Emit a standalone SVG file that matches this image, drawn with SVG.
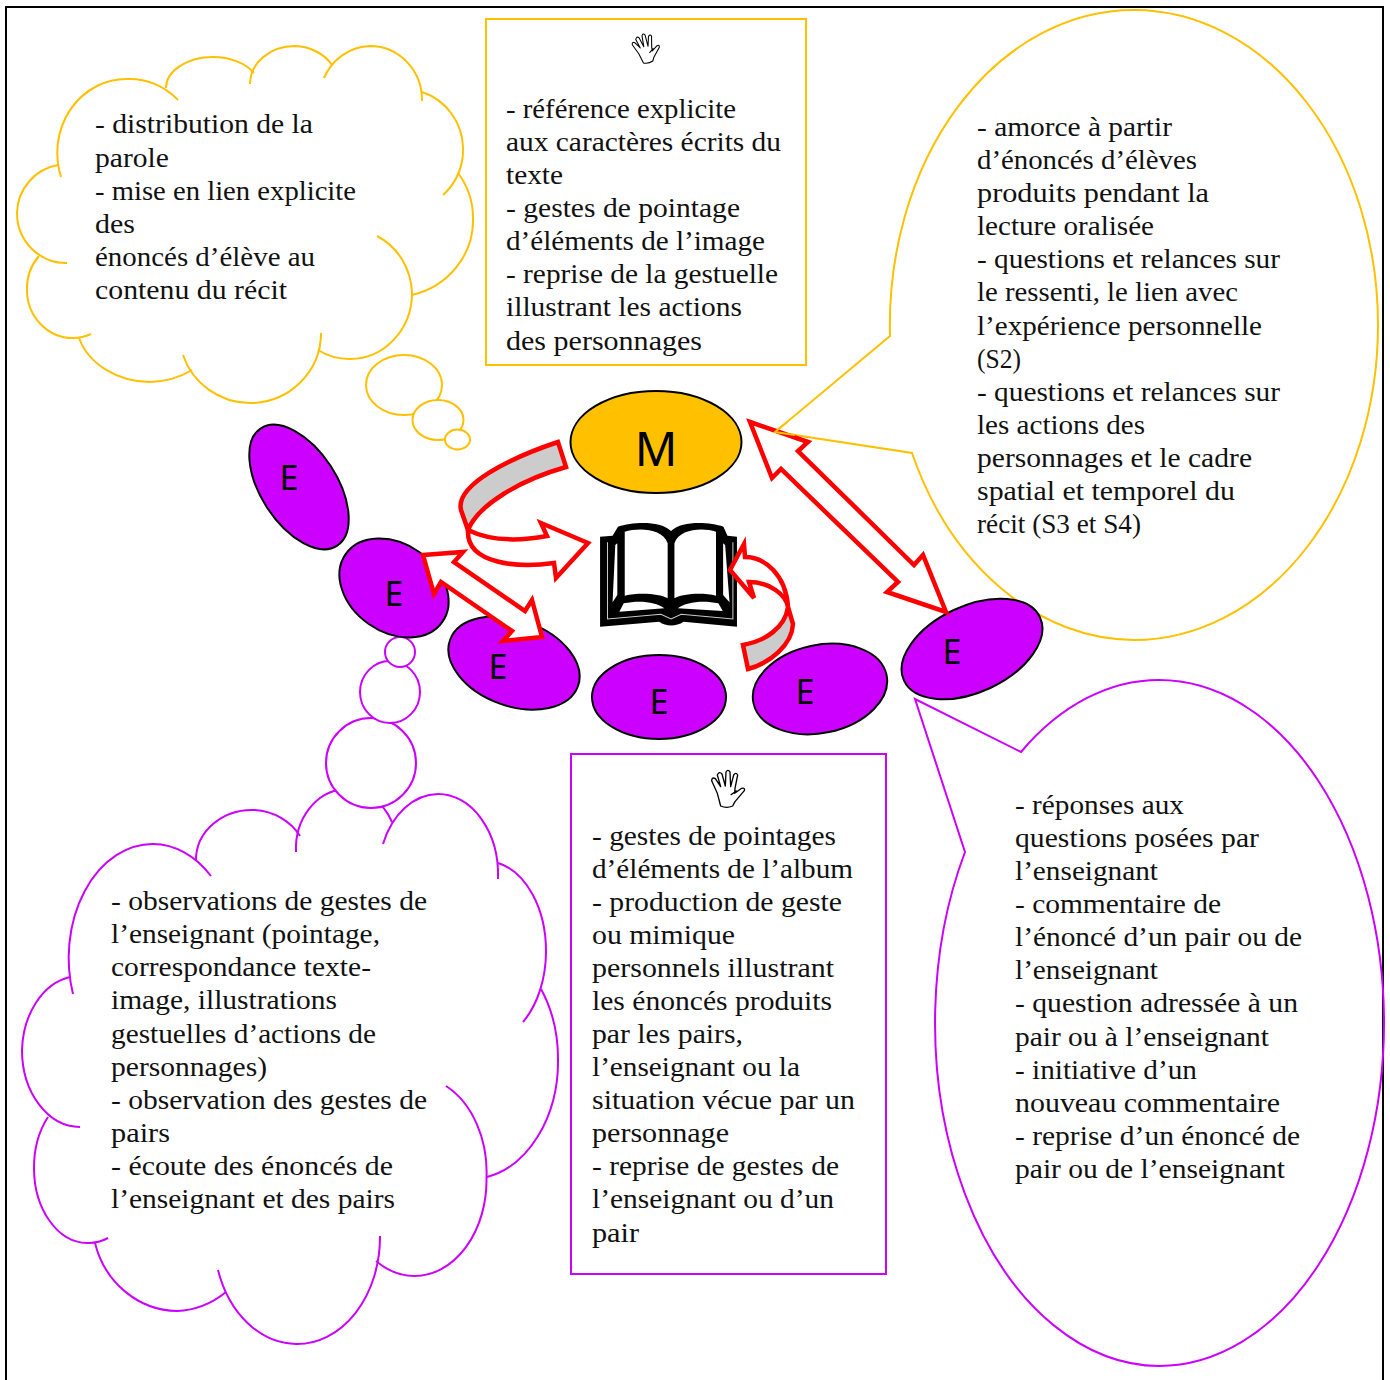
<svg xmlns="http://www.w3.org/2000/svg" width="1390" height="1380" viewBox="0 0 1390 1380">
<style>
.t{font-family:"Liberation Serif","Times New Roman",serif;font-size:28px;fill:#111;white-space:pre}
.l{font-family:"Noto Sans","Open Sans",sans-serif;fill:#000;text-anchor:middle}
.y{fill:none;stroke:#FFC000;stroke-width:2}
.m{fill:none;stroke:#CC00FF;stroke-width:2}
.yb{fill:#fff;stroke:#FFC000;stroke-width:2}
.mb{fill:#fff;stroke:#CC00FF;stroke-width:2}
.e{fill:#CC00FF;stroke:#000;stroke-width:2}
.a{fill:#fff;stroke:#FF0000;stroke-width:4.5;stroke-linejoin:miter}
.g{fill:#CCCCCC;stroke:#FF0000;stroke-width:4.5}
</style>
<defs>
<g id="hand"><path d="M92,138 L82,100 L65,62 Q66,50 76,56 L92,80 L82,45 Q88,32 96,42 L106,78 L108,36 Q114,26 120,36 L122,80 L131,45 Q138,35 143,45 L135,85 L134,100 L155,85 Q166,82 163,92 L135,125 L128,138 Q110,146 92,138 Z M122,105 L140,92" fill="#fff" stroke="#000" stroke-width="4" stroke-linejoin="round"/></g>
</defs>
<rect x="0" y="0" width="1390" height="1380" fill="#fff"/>
<rect id="frame" x="6" y="7" width="1377" height="1400" fill="none" stroke="#000" stroke-width="2"/>

<g id="cloud-yellow">
<path class="y" d="M61,177 A69,74 0 0 1 127,79 A69,74 0 0 1 178,100"/>
<path class="y" d="M166,88 A47,31 0 0 1 213,57 A47,31 0 0 1 254,73"/>
<path class="y" d="M250,84 A45,38 0 0 1 295,46 A45,38 0 0 1 332,65"/>
<path class="y" d="M324,78 A52,54 0 0 1 370,46 A52,54 0 0 1 422,101"/>
<path class="y" d="M422,92 A60,60 0 0 1 463,148 A60,60 0 0 1 443,195"/>
<path class="y" d="M458,173 A80,77 0 0 1 473,218 A80,77 0 0 1 412,295"/>
<path class="y" d="M377,236 A62,66 0 0 1 412,293 A62,66 0 0 1 350,359 A62,66 0 0 1 318,350"/>
<path class="y" d="M321,333 A71,70 0 0 1 250,403 A71,70 0 0 1 183,355"/>
<path class="y" d="M192,370 A75,62 0 0 1 150,382 A75,62 0 0 1 79,338"/>
<path class="y" d="M91,334 A46,48 0 0 1 73,338 A46,48 0 0 1 27,290 A46,48 0 0 1 39,256"/>
<path class="y" d="M67,263 A49,50 0 0 1 17,213 A49,50 0 0 1 58,165"/>
<ellipse class="yb" cx="404" cy="385" rx="38" ry="30"/>
<ellipse class="yb" cx="438" cy="420" rx="25.5" ry="20"/>
<ellipse class="yb" cx="457.500" cy="439.500" rx="12.500" ry="10"/>
<g class="t">
<text x="95" y="133" textLength="218" lengthAdjust="spacingAndGlyphs">- distribution de la</text>
<text x="95" y="167" textLength="74" lengthAdjust="spacingAndGlyphs">parole</text>
<text x="95" y="200" textLength="261" lengthAdjust="spacingAndGlyphs">- mise en lien explicite</text>
<text x="95" y="233" textLength="40" lengthAdjust="spacingAndGlyphs">des</text>
<text x="95" y="266" textLength="220" lengthAdjust="spacingAndGlyphs">énoncés d’élève au</text>
<text x="95" y="299" textLength="192" lengthAdjust="spacingAndGlyphs">contenu du récit</text>
</g>
</g>

<g id="box-yellow">
<rect class="y" x="486" y="19" width="320" height="346"/>
<use href="#hand" transform="translate(646.500,48) rotate(-12) scale(.265) translate(-115,-85)"/>
<g class="t">
<text x="506" y="118" textLength="230" lengthAdjust="spacingAndGlyphs">- référence explicite</text>
<text x="506" y="151" textLength="275" lengthAdjust="spacingAndGlyphs">aux caractères écrits du</text>
<text x="506" y="184" textLength="57" lengthAdjust="spacingAndGlyphs">texte</text>
<text x="506" y="217" textLength="234" lengthAdjust="spacingAndGlyphs">- gestes de pointage</text>
<text x="506" y="250" textLength="259" lengthAdjust="spacingAndGlyphs">d’éléments de l’image</text>
<text x="506" y="283" textLength="272" lengthAdjust="spacingAndGlyphs">- reprise de la gestuelle</text>
<text x="506" y="316" textLength="236" lengthAdjust="spacingAndGlyphs">illustrant les actions</text>
<text x="506" y="350" textLength="196" lengthAdjust="spacingAndGlyphs">des personnages</text>
</g>
</g>

<g id="callout-yellow">
<path class="y" d="M890,336 L775,432 L912,453 A244,315 0 0 0 1134,640 A244,315 0 0 0 1378,325 A244,315 0 0 0 1134,10 A244,315 0 0 0 890,336 Z"/>
<g class="t">
<text x="977" y="136" textLength="195" lengthAdjust="spacingAndGlyphs">- amorce à partir</text>
<text x="977" y="169" textLength="220" lengthAdjust="spacingAndGlyphs">d’énoncés d’élèves</text>
<text x="977" y="202" textLength="232" lengthAdjust="spacingAndGlyphs">produits pendant la</text>
<text x="977" y="235" textLength="177" lengthAdjust="spacingAndGlyphs">lecture oralisée</text>
<text x="977" y="268" textLength="303" lengthAdjust="spacingAndGlyphs">- questions et relances sur</text>
<text x="977" y="301" textLength="261" lengthAdjust="spacingAndGlyphs">le ressenti, le lien avec</text>
<text x="977" y="335" textLength="285" lengthAdjust="spacingAndGlyphs">l’expérience personnelle</text>
<text x="977" y="368" textLength="44" lengthAdjust="spacingAndGlyphs">(S2)</text>
<text x="977" y="401" textLength="303" lengthAdjust="spacingAndGlyphs">- questions et relances sur</text>
<text x="977" y="434" textLength="168" lengthAdjust="spacingAndGlyphs">les actions des</text>
<text x="977" y="467" textLength="275" lengthAdjust="spacingAndGlyphs">personnages et le cadre</text>
<text x="977" y="500" textLength="258" lengthAdjust="spacingAndGlyphs">spatial et temporel du</text>
<text x="977" y="533" textLength="164" lengthAdjust="spacingAndGlyphs">récit (S3 et S4)</text>
</g>
</g>

<g id="callout-magenta">
<path class="m" d="M965,852 L915,699 L1021,752 A225,343 0 0 1 1159,680 A225,343 0 0 1 1384,1023 A225,343 0 0 1 1159,1366 A225,343 0 0 1 965,852 Z"/>
<g class="t">
<text x="1015" y="814" textLength="169" lengthAdjust="spacingAndGlyphs">- réponses aux</text>
<text x="1015" y="847" textLength="244" lengthAdjust="spacingAndGlyphs">questions posées par</text>
<text x="1015" y="880" textLength="143" lengthAdjust="spacingAndGlyphs">l’enseignant</text>
<text x="1015" y="913" textLength="206" lengthAdjust="spacingAndGlyphs">- commentaire de</text>
<text x="1015" y="946" textLength="287" lengthAdjust="spacingAndGlyphs">l’énoncé d’un pair ou de</text>
<text x="1015" y="979" textLength="143" lengthAdjust="spacingAndGlyphs">l’enseignant</text>
<text x="1015" y="1012" textLength="283" lengthAdjust="spacingAndGlyphs">- question adressée à un</text>
<text x="1015" y="1046" textLength="254" lengthAdjust="spacingAndGlyphs">pair ou à l’enseignant</text>
<text x="1015" y="1079" textLength="182" lengthAdjust="spacingAndGlyphs">- initiative d’un</text>
<text x="1015" y="1112" textLength="265" lengthAdjust="spacingAndGlyphs">nouveau commentaire</text>
<text x="1015" y="1145" textLength="285" lengthAdjust="spacingAndGlyphs">- reprise d’un énoncé de</text>
<text x="1015" y="1178" textLength="270" lengthAdjust="spacingAndGlyphs">pair ou de l’enseignant</text>
</g>
</g>

<g id="cloud-magenta">
<path class="m" d="M73,994 A84,114 0 0 1 153,844 A84,114 0 0 1 211,876"/>
<path class="m" d="M196,860 A56,50 0 0 1 254.500,810 A56,50 0 0 1 300,836"/>
<path class="m" d="M296,852 A52,60 0 0 1 344,789 A52,60 0 0 1 392,822"/>
<path class="m" d="M383,844 A60,81 0 0 1 438,794 A60,81 0 0 1 498,879"/>
<path class="m" d="M498,863 A60,90 0 0 1 546,952 A60,90 0 0 1 523,1022"/>
<path class="m" d="M541,989 A88,118 0 0 1 558,1059 A88,118 0 0 1 487,1177"/>
<path class="m" d="M446,1086 A72,96 0 0 1 486.500,1178 A72,96 0 0 1 414.500,1276 A72,96 0 0 1 376,1261"/>
<path class="m" d="M380,1236 A83,107 0 0 1 296,1344 A83,107 0 0 1 218,1270"/>
<path class="m" d="M226,1292 A86,91 0 0 1 177,1311 A86,91 0 0 1 95,1243"/>
<path class="m" d="M108,1238 A53.500,75 0 0 1 87,1243 A53.500,75 0 0 1 34,1168 A53.500,75 0 0 1 48,1117"/>
<path class="m" d="M80,1127 A58,77 0 0 1 22,1050 A58,77 0 0 1 70,977"/>
<circle class="mb" cx="371" cy="763" r="45"/>
<ellipse class="mb" cx="390" cy="692" rx="30" ry="31"/>
<circle class="mb" cx="400" cy="652" r="15"/>
<g class="t">
<text x="111" y="910" textLength="316" lengthAdjust="spacingAndGlyphs">- observations de gestes de</text>
<text x="111" y="943" textLength="269" lengthAdjust="spacingAndGlyphs">l’enseignant (pointage,</text>
<text x="111" y="976" textLength="260" lengthAdjust="spacingAndGlyphs">correspondance texte-</text>
<text x="111" y="1009" textLength="226" lengthAdjust="spacingAndGlyphs">image, illustrations</text>
<text x="111" y="1043" textLength="265" lengthAdjust="spacingAndGlyphs">gestuelles d’actions de</text>
<text x="111" y="1076" textLength="156" lengthAdjust="spacingAndGlyphs">personnages)</text>
<text x="111" y="1109" textLength="316" lengthAdjust="spacingAndGlyphs">- observation des gestes de</text>
<text x="111" y="1142" textLength="59" lengthAdjust="spacingAndGlyphs">pairs</text>
<text x="111" y="1175" textLength="282" lengthAdjust="spacingAndGlyphs">-  écoute des énoncés de</text>
<text x="111" y="1208" textLength="284" lengthAdjust="spacingAndGlyphs">l’enseignant et des pairs</text>
</g>
</g>

<g id="box-magenta">
<rect class="m" x="571" y="754" width="315" height="520"/>
<use href="#hand" transform="translate(690,760) scale(.3333)"/>
<g class="t">
<text x="592" y="845" textLength="244" lengthAdjust="spacingAndGlyphs">- gestes de pointages</text>
<text x="592" y="878" textLength="261" lengthAdjust="spacingAndGlyphs">d’éléments de l’album</text>
<text x="592" y="911" textLength="250" lengthAdjust="spacingAndGlyphs">- production de geste</text>
<text x="592" y="944" textLength="143" lengthAdjust="spacingAndGlyphs">ou mimique</text>
<text x="592" y="977" textLength="242" lengthAdjust="spacingAndGlyphs">personnels illustrant</text>
<text x="592" y="1010" textLength="240" lengthAdjust="spacingAndGlyphs">les énoncés produits</text>
<text x="592" y="1043" textLength="151" lengthAdjust="spacingAndGlyphs">par les pairs,</text>
<text x="592" y="1076" textLength="208" lengthAdjust="spacingAndGlyphs">l’enseignant ou la</text>
<text x="592" y="1109" textLength="263" lengthAdjust="spacingAndGlyphs">situation vécue par un</text>
<text x="592" y="1142" textLength="137" lengthAdjust="spacingAndGlyphs">personnage</text>
<text x="592" y="1175" textLength="247" lengthAdjust="spacingAndGlyphs">- reprise de gestes de</text>
<text x="592" y="1208" textLength="242" lengthAdjust="spacingAndGlyphs">l’enseignant ou d’un</text>
<text x="592" y="1242" textLength="47" lengthAdjust="spacingAndGlyphs">pair</text>
</g>
</g>

<g id="book" transform="translate(595,515) scale(.338,.3333)">
<path fill="#000" d="M15,65 L52,62 L68,35 C110,22 190,15 225,48 C260,15 340,22 380,35 L392,62 L420,65 L420,335 L262,320 C240,335 210,335 190,320 L15,335 Z"/>
<path fill="#fff" d="M88,50 C130,38 200,40 215,85 L215,250 C190,235 130,232 88,242 Z"/>
<path fill="#fff" d="M235,85 C250,40 320,38 358,50 L358,242 C320,232 260,235 235,250 Z"/>
<path fill="#fff" d="M85,265 C130,255 180,260 205,280 L72,290 Z"/>
<path fill="#fff" d="M245,280 C270,260 320,255 365,265 L378,288 Z"/>
<path fill="#fff" d="M60,90 L66,85 L66,240 L52,262 Z"/>
<path fill="#fff" d="M379,85 L385,90 L398,262 L379,240 Z"/>
<path fill="none" stroke="#ccc" stroke-width="3" d="M37,82 L37,312 L195,298 L225,312 L255,298 L408,312 L408,82"/>
</g>

<g id="node-M"><ellipse cx="656" cy="442" rx="85.500" ry="51" fill="#FFC000" stroke="#000" stroke-width="2"/><text class="l" x="656" y="466" font-size="47">M</text></g>
<g id="node-E1"><ellipse class="e" cx="299" cy="487" rx="70" ry="38" transform="rotate(57 299 487)"/><text class="l" x="289" y="490" font-size="34">E</text></g>
<g id="node-E2"><ellipse class="e" cx="394" cy="588" rx="59" ry="44" transform="rotate(35 394 588)"/><text class="l" x="394" y="606" font-size="34">E</text></g>
<g id="node-E3"><ellipse class="e" cx="514" cy="663" rx="68" ry="43" transform="rotate(20 514 663)"/><text class="l" x="498" y="679" font-size="34">E</text></g>
<g id="node-E4"><ellipse class="e" cx="659" cy="697" rx="67" ry="42"/><text class="l" x="659" y="714" font-size="34">E</text></g>
<g id="node-E5"><ellipse class="e" cx="820" cy="689" rx="68" ry="44" transform="rotate(-12 820 689)"/><text class="l" x="805" y="704" font-size="34">E</text></g>
<g id="node-E6"><ellipse class="e" cx="972" cy="649" rx="75" ry="43" transform="rotate(-25 972 649)"/><text class="l" x="952" y="664" font-size="34">E</text></g>

<g id="connectors">
<path class="a" d="M423,555 L463,552 L454,562 L525,611 L532,600 L542,637 L503,641 L512,631 L441,582 L434,594 Z"/>
<path class="a" d="M750,422 L808,442 L798,451 L914,565 L923,555 L946,612 L887,592 L898,582 L781,469 L772,478 Z"/>
<path class="a" d="M468,530 C490,541 520,541 547,536 L541,523 L588,543 L556,578 L554,563 C520,568 466,565 468,530 Z"/>
<path class="g" d="M558,442 C510,458 455,485 461,510 L468,530 C478,505 520,480 566,467 Z"/>
<path class="a" d="M788,607 C786,575 765,557 745,557 L744,544 L730,570 L754,598 L749,582 C770,582 786,595 788,607 Z"/>
<path class="g" d="M743,645 C765,641 785,628 788,607 L793,624 C792,645 770,663 748,669 Z"/>
<path class="y" d="M787,422 L775,432 L795,435"/>
</g>
</svg>
